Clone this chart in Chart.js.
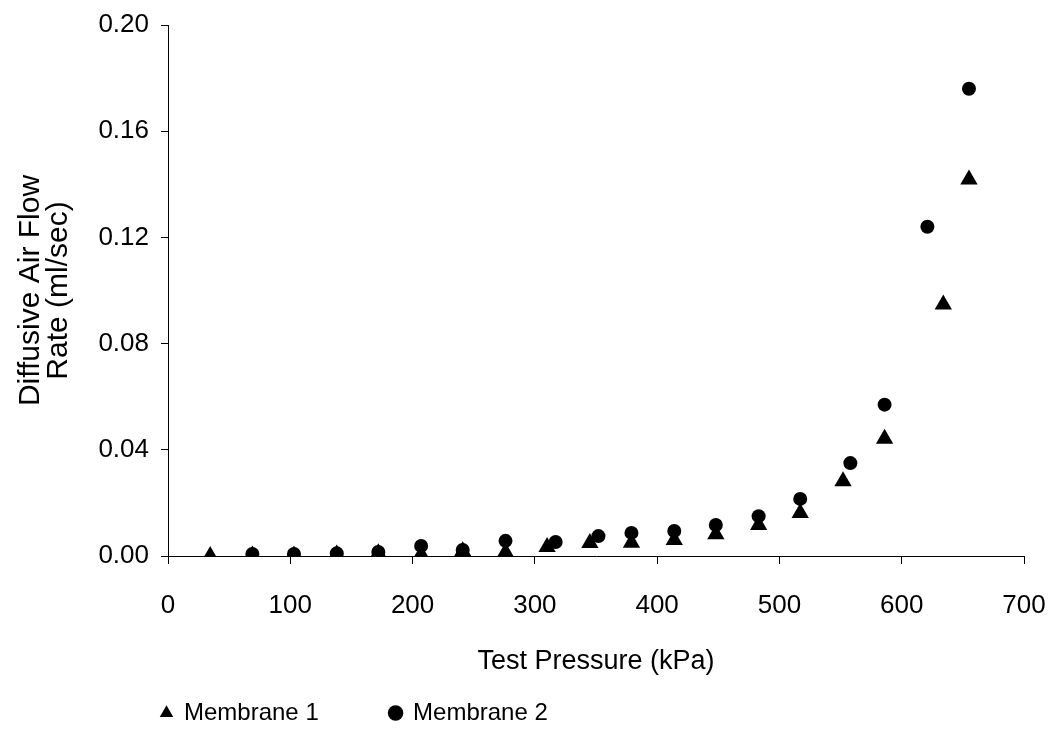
<!DOCTYPE html>
<html>
<head>
<meta charset="utf-8">
<script src="https://cdn.jsdelivr.net/npm/chart.js@4/dist/chart.umd.min.js"></script>
<style>
  html, body { margin: 0; padding: 0; background: #fff; }
  #wrap { width: 1055px; height: 747px; }
</style>
</head>
<body>
<div id="wrap"><canvas id="grafico"></canvas></div>
<script>
// pressao de teste (kPa) e vazao difusiva (ml/s)
const pressaoM1 = [34.5, 69, 103, 138, 172, 207, 241, 276, 310, 345, 379, 414, 448, 483, 517, 552, 586, 634, 655];
const vazaoM1 = [0.0000, 0.0002, 0.0002, 0.0006, 0.0010, 0.0006, 0.0018, 0.0014, 0.0034, 0.0049, 0.0050, 0.0060, 0.0082, 0.0117, 0.0162, 0.0282, 0.0442, 0.0947, 0.1418];

const pressaoM2 = [69, 103, 138, 172, 207, 241, 276, 317, 352, 379, 414, 448, 483, 517, 558, 586, 621, 655];
const vazaoM2 = [0.0008, 0.0008, 0.0010, 0.0015, 0.0038, 0.0023, 0.0057, 0.0053, 0.0075, 0.0087, 0.0094, 0.0117, 0.0150, 0.0215, 0.0350, 0.0570, 0.1240, 0.1760];

const ticksX = [0, 100, 200, 300, 400, 500, 600, 700];
const ticksY = [0, 0.04, 0.08, 0.12, 0.16, 0.20];

const fonte = 'Liberation Sans, Arial, sans-serif';

function pontos(xs, ys) {
  return xs.map((x, i) => ({ x: x, y: ys[i] }));
}

// puxa a legenda um pouco para a esquerda, como no original
const deslocaLegenda = {
  id: 'deslocaLegenda',
  afterLayout(c) {
    if (c.legend) {
      c.legend.left -= 17;
      c.legend.right -= 17;
    }
  }
};

const ctx = document.getElementById('grafico').getContext('2d');

const chart = new Chart(ctx, {
  type: 'scatter',
  data: {
    datasets: [
      {
        label: 'Membrane 1',
        data: pontos(pressaoM1, vazaoM1),
        pointStyle: 'triangle',
        pointRadius: 10,
        pointHoverRadius: 10,
        backgroundColor: '#000',
        borderColor: '#000',
        borderWidth: 0,
        order: 2
      },
      {
        label: 'Membrane 2',
        data: pontos(pressaoM2, vazaoM2),
        pointStyle: 'circle',
        pointRadius: 7,
        pointHoverRadius: 7,
        backgroundColor: '#000',
        borderColor: '#000',
        borderWidth: 0,
        order: 1
      }
    ]
  },
  options: {
    responsive: true,
    maintainAspectRatio: false,
    animation: false,
    layout: { padding: { left: 0, right: 31, top: 25, bottom: 12 } },
    plugins: {
      tooltip: { enabled: false },
      legend: {
        position: 'bottom',
        align: 'start',
        fullSize: false,
        labels: {
          usePointStyle: true,
          boxWidth: 11,
          boxHeight: 11,
          padding: 10,
          color: '#000',
          font: { family: fonte, size: 24 },
          sort: (a, b) => a.datasetIndex - b.datasetIndex,
          generateLabels: (c) => {
            const itens = Chart.defaults.plugins.legend.labels.generateLabels(c);
            itens.forEach((it) => { if (it.datasetIndex === 0) it.text = it.text + '\u2003\u2003  '; });
            return itens;
          }
        }
      }
    },
    scales: {
      x: {
        type: 'linear',
        min: 0,
        max: 700,
        afterFit: (s) => {
          s.height = 135;
          s.paddingLeft = 0;
          s.paddingRight = 0;
        },
        afterBuildTicks: (s) => { s.ticks = ticksX.map(v => ({ value: v })); },
        ticks: {
          color: '#000',
          font: { family: fonte, size: 26 },
          padding: 26,
          maxRotation: 0
        },
        grid: { drawOnChartArea: false, drawTicks: true, tickLength: 8, color: '#000' },
        border: { color: '#000', width: 1 },
        title: {
          display: true,
          text: 'Test Pressure (kPa)',
          color: '#000',
          font: { family: fonte, size: 27 },
          padding: { top: 4, bottom: 13 }
        }
      },
      y: {
        type: 'linear',
        min: 0,
        max: 0.2,
        afterFit: (s) => {
          s.width = 168;
          s.paddingTop = 0;
          s.paddingBottom = 0;
        },
        afterBuildTicks: (s) => { s.ticks = ticksY.map(v => ({ value: v })); },
        ticks: {
          color: '#000',
          font: { family: fonte, size: 26 },
          padding: 12,
          callback: (v) => v.toFixed(2)
        },
        grid: { drawOnChartArea: false, drawTicks: true, tickLength: 7, color: '#000' },
        border: { color: '#000', width: 1 },
        title: {
          display: true,
          text: ['Diffusive Air Flow', 'Rate (ml/sec)'],
          color: '#000',
          font: { family: fonte, size: 30, lineHeight: 0.95 },
          padding: { top: 16, bottom: 0 }
        }
      }
    }
  },
  plugins: [deslocaLegenda]
});
</script>
</body>
</html>
